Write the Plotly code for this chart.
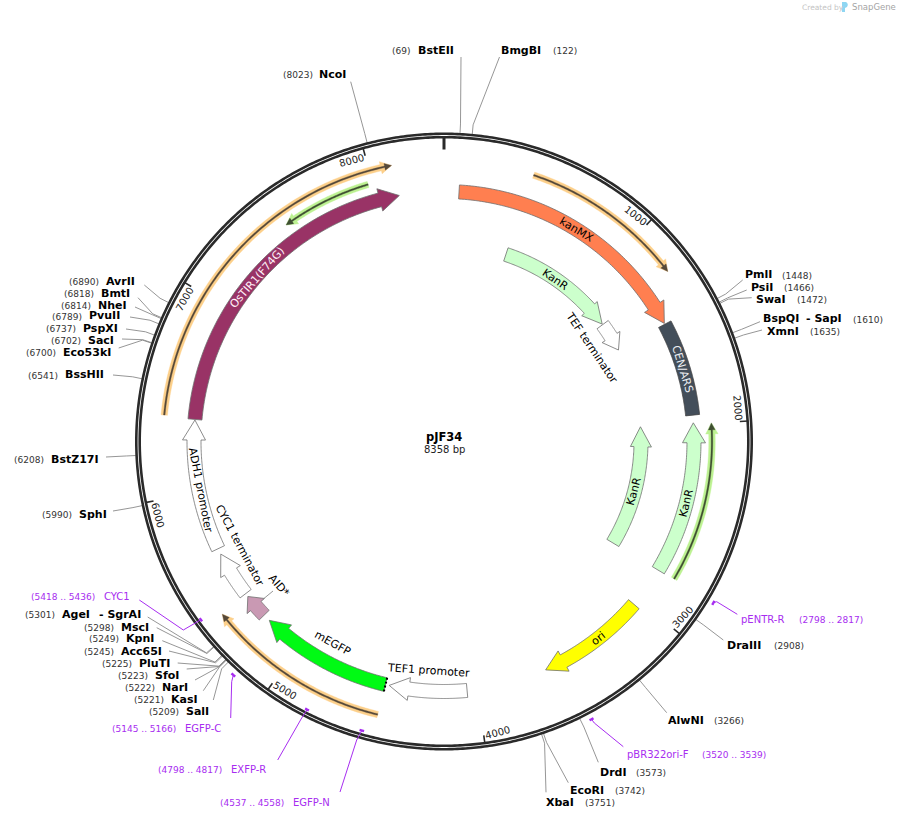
import numpy as np
import plotly.graph_objects as go

# ---------- data ----------
plasmid_name = "pJF34"
plasmid_size = 8358
tick_values = [1000, 2000, 3000, 4000, 5000, 6000, 7000, 8000]

feature_names = ["kanMX", "KanR", "TEF terminator", "CEN/ARS", "KanR", "KanR", "ori", "TEF1 promoter",
                 "mEGFP", "AID*", "CYC1 terminator", "ADH1 promoter", "OsTIR1(F74G)"]
feature_starts = [80, 425, 1245, 1440, 2809, 2809, 3032, 4056, 4493, 5247, 5398, 5679, 6386]
feature_ends = [1435, 1240, 1447, 1949, 1990, 1990, 3622, 4473, 5208, 5379, 5647, 6383, 8119]

orf_starts = [432, 4496, 6394]
orf_ends = [1225, 5388, 8108]
orf_track_green_starts = [7976, 2805]
orf_track_green_ends = [7520, 1997]

site_names = ["BstEII", "BmgBI", "PmlI", "PsiI", "SwaI", "BspQI", "XmnI", "DraIII", "AlwNI", "DrdI", "EcoRI", "XbaI",
              "SalI", "KasI", "NarI", "SfoI", "PluTI", "Acc65I", "KpnI", "MscI", "AgeI", "SphI", "BstZ17I", "BssHII",
              "Eco53kI", "SacI", "PspXI", "PvuII", "NheI", "BmtI", "AvrII", "NcoI"]
site_positions = [69, 122, 1448, 1466, 1472, 1610, 1635, 2908, 3266, 3573, 3742, 3751,
                  5209, 5221, 5222, 5223, 5225, 5245, 5249, 5298, 5301, 5990, 6208, 6541,
                  6700, 6702, 6737, 6789, 6814, 6818, 6890, 8023]

primer_names = ["pENTR-R", "pBR322ori-F", "EGFP-N", "EXFP-R", "EGFP-C", "CYC1"]
primer_starts = [2798, 3520, 4537, 4798, 5145, 5418]
primer_ends = [2817, 3539, 4558, 4817, 5166, 5436]

# ---------- layout of the marks and labels (pixels of the page, bp via the polar axis) ----------
W, H = 899, 819
CX, CY = 444.0, 441.5
RMAX = 375.0

tick_label_rot = [38, 85, -47, -15, 31, 76, -60, -15]

feature_colors = ["#ff7f50", "#ccffcc", "#ffffff", "#434e5a", "#ccffcc", "#ccffcc", "#ffff00", "#ffffff",
                  "#00fa14", "#c999b3", "#ffffff", "#ffffff", "#993366"]
feature_radii = [250, 197, 197, 250, 250, 197, 250, 250, 250, 250, 250, 250, 250]
feature_has_head = [1, 1, 1, 0, 1, 1, 1, 1, 1, 1, 1, 1, 1]
feature_label_xy = [(576, 229.5), (555, 279.5), (591.5, 347.5), (682.7, 369.3), (686, 503.3), (634, 491.7),
                    (598.3, 638.3), (428.3, 670), (333.3, 643.3), (279, 585), (240, 545), (201, 490), (257.3, 277.7)]
feature_label_rot = [31, 34, 56, 73, -76, -75, -38, 4, 29, 49, 62, 79, -49]
feature_label_col = ["#000", "#000", "#000", "#eef0f4", "#000", "#000", "#000", "#000", "#000", "#000", "#000", "#000",
                     "#fff0f8"]

site_name_xy = [(418, 50), (501, 50), (745, 275), (751, 287), (756, 299), (763, 319), (767, 331), (726.5, 645),
                (668, 720), (600, 772), (570, 790), (546, 802), (186, 711), (171, 699), (162, 687), (155, 675),
                (139, 663), (121, 651), (126, 638), (121, 627), (62, 614), (79, 514), (51, 459), (65, 375),
                (63, 352), (88, 340), (83, 328), (89, 316), (98, 305), (101, 293), (106, 281), (319, 74)]
site_num_x = [392, 553, 782, 784, 797, 853, 810, 774, 714, 636, 615, 585, 149, 134, 125, 118, 102, 84, 89, 84, 25, 42,
              14, 28, 26, 51, 46, 52, 61, 64, 69, 283]
site_line_end = [(461, 57), (499.5, 57), (742.7, 280), (746.7, 290), (751.7, 297.7), (760, 321.7), (762, 330),
                 (723.3, 640), (666.7, 712.7), (598.3, 762.3), (568.3, 782.7), (546, 792.3),
                 (213.3, 700), (203.3, 690.7), (195, 680), (186.7, 669), (177.7, 663), (169, 651), (162.3, 640.7),
                 (156.7, 627.7), (147.7, 617), (113, 511), (106, 457), (113, 375), (118.7, 348), (122, 339),
                 (126, 329), (130, 317), (135, 307), (138, 297.7), (144.3, 285), (350.7, 81.7)]
extra_labels = [("- SapI", 806, 319), ("- SgrAI", 99, 614)]

primer_radii = [314, 314.5, 300.5, 301, 314.5, 301.5]
primer_elbow = [(716.7, 601.7), (594.3, 723), (356.7, 740), (301.7, 718), (231.7, 681.7), (183.3, 630)]
primer_line_end = [(737.3, 614.3), (623.3, 746.7), (340, 792), (277.7, 760), (230.7, 718), (139.3, 600)]
primer_name_xy = [(741, 619), (626.5, 754), (293, 802), (231, 769), (185, 728), (104, 596)]
primer_num_xy = [(799, 620), (701.5, 755), (220, 802.5), (158, 770), (112, 728.5), (31, 597)]

PURPLE = "#a72df0"
DARK = "#2a2a2a"
GREY = "#8a8a8a"
EDGE = "#6e6e6e"
FONT = "DejaVu Sans"

# ---------- helpers ----------
def deg(bp):
    return np.asarray(bp, dtype=float) * 360.0 / plasmid_size


def from_px(x, y):
    dx, dy = x - CX, y - CY
    return float(np.hypot(dx, dy)), float(np.degrees(np.arctan2(dx, -dy)) % 360)


fig = go.Figure()
page_shapes = []


def add(r, theta, **kw):
    kw.setdefault("mode", "lines")
    fig.add_trace(go.Scatterpolar(r=r, theta=theta, showlegend=False, hoverinfo="skip", **kw))


def arrow(start, end, radius, body, head_half, head_px, fill, edge=EDGE, edge_w=0.8):
    a0, a1 = float(deg(start)), float(deg(end))
    sign = 1 if a1 > a0 else -1
    span_px = abs(np.radians(a1 - a0)) * radius
    h = min(head_px, 0.5 * span_px) if head_half else 0
    ab = a1 - sign * np.degrees(h / radius)
    arc = np.linspace(a0, ab, 80)
    rs = list(np.full(80, radius + body))
    ts = list(arc)
    if head_half:
        rs += [radius + head_half, radius, radius - head_half]
        ts += [ab, a1, ab]
    rs += list(np.full(80, radius - body)) + [radius + body]
    ts += list(arc[::-1]) + [a0]
    add(rs, ts, fill="toself", fillcolor=fill, line=dict(color=edge, width=edge_w))


def text(s, x, y, size=10, color="#000", bold=False, anchor="left", rot=0):
    if anchor == "left":
        x -= 1
    fig.add_annotation(x=x / W, y=1 - y / H, xref="paper", yref="paper", showarrow=False,
                       text=f"<b>{s}</b>" if bold else s, xanchor=anchor, yanchor="middle", textangle=rot,
                       borderpad=0, font=dict(family=FONT, size=size, color=color))


# ---------- leader lines ----------
ELBOW_R = 318
for bp, end in zip(site_positions, site_line_end):
    r_e, t_e = from_px(*end)
    t = float(deg(bp))
    if r_e <= RMAX:
        add([308.5, ELBOW_R, r_e], [t, t, t_e], line=dict(color=GREY, width=0.9))
    else:
        # the tail runs past the top of the polar plot area, so it is a page-level line
        add([308.5, ELBOW_R], [t, t], line=dict(color=GREY, width=0.9))
        ex = CX + ELBOW_R * np.sin(np.radians(t))
        ey = CY - ELBOW_R * np.cos(np.radians(t))
        page_shapes.append(dict(type="line", xref="paper", yref="paper", x0=ex / W, y0=1 - ey / H,
                                x1=end[0] / W, y1=1 - end[1] / H, line=dict(color=GREY, width=0.9)))

# ---------- backbone ----------
circle = np.linspace(0, 360, 721)
add(np.full(721, 307.7), circle, line=dict(color=DARK, width=2.6))
add(np.full(721, 304.3), circle, line=dict(color=DARK, width=2.6))
add([292, 305], [0, 0], line=dict(color=DARK, width=3))
for v, rot in zip(tick_values, tick_label_rot):
    t = float(deg(v))
    add([296.5, 305], [t, t], line=dict(color=DARK, width=1.6))
    ta = t - 2.8
    xt = CX + 296 * np.sin(np.radians(ta))
    yt = CY - 296 * np.cos(np.radians(ta))
    text(str(v), xt, yt, size=10, color="#222", anchor="center", rot=rot)

# ---------- features ----------
for s, e, c, r, hh in zip(feature_starts, feature_ends, feature_colors, feature_radii, feature_has_head):
    head = (11.5 if r == 250 else 10.5) if hh else 0
    arrow(s, e, r, 7, head, 20, c, edge="#444" if c == "#434e5a" else EDGE)
# small dotted end of mEGFP
i = feature_names.index("mEGFP")
t = float(deg(feature_starts[i]))
add([243, 257], [t, t], line=dict(color="#000", width=2, dash="2px,2px"))
# AID* leader
add([from_px(263.3, 599)[0], from_px(273, 591)[0]], [from_px(263.3, 599)[1], from_px(273, 591)[1]],
    line=dict(color=GREY, width=0.9))

# ---------- thin ORF / primer-like tracks ----------
for s, e in zip(orf_starts, orf_ends):
    arrow(s, e, 281, 3.2, 6.2, 11, "#fdd08a", edge="#fdd08a", edge_w=0.4)
    arrow(s, e, 281, 0.8, 3.4, 7, "#55493a", edge="#55493a", edge_w=0.3)
for s, e in zip(orf_track_green_starts, orf_track_green_ends):
    arrow(s, e, 268, 3.2, 6.2, 11, "#bdf292", edge="#bdf292", edge_w=0.4)
    arrow(s, e, 268, 0.8, 3.4, 7, "#3f4f32", edge="#3f4f32", edge_w=0.3)

# ---------- primers ----------
for s, e, r, elbow, end in zip(primer_starts, primer_ends, primer_radii, primer_elbow, primer_line_end):
    arc = np.linspace(float(deg(s)), float(deg(e)), 6)
    add(np.full(6, r), arc, line=dict(color=PURPLE, width=2.4))
    mid = float(deg((s + e) / 2))
    re_, te_ = from_px(*elbow)
    rl, tl = from_px(*end)
    add([r, re_, rl], [mid, te_, tl], line=dict(color=PURPLE, width=1))

# ---------- texts ----------
text(f"<b>{plasmid_name}</b>", CX, 437, size=11.5, anchor="center")
text(f"{plasmid_size} bp", CX + 0.5, 449.5, size=10, color="#222", anchor="center")

for name, xy, rot, col in zip(feature_names, feature_label_xy, feature_label_rot, feature_label_col):
    text(name, xy[0], xy[1], size=11, color=col, anchor="center", rot=rot)

for name, num, (x, y), nx in zip(site_names, site_positions, site_name_xy, site_num_x):
    text(name, x, y, size=11, bold=True)
    text(f"({num})", nx, y + 0.7, size=9, color="#333")
for s, x, y in extra_labels:
    text(s, x, y, size=11, bold=True)

for name, s, e, xy, nxy in zip(primer_names, primer_starts, primer_ends, primer_name_xy, primer_num_xy):
    text(name, xy[0], xy[1], size=10, color=PURPLE)
    text(f"({s} .. {e})", nxy[0], nxy[1], size=9, color=PURPLE)

# logo
text("Created by", 802, 7.5, size=7.5, color="#c4c4c4")
text("SnapGene", 852, 7.5, size=8.5, color="#a4a4a4")
page_shapes.append(dict(type="path", xref="paper", yref="paper",
                        path=f"M {842/W} {1-2/H} L {846/W} {1-2/H} Q {849/W} {1-4/H} {847/W} {1-7/H} L {845/W} {1-8/H} "
                             f"L {845/W} {1-12/H} L {842/W} {1-12/H} Z",
                        fillcolor="#8fd6f2", line=dict(width=0)))

fig.update_layout(
    width=W, height=H, autosize=False, margin=dict(l=0, r=0, t=0, b=0),
    paper_bgcolor="#fff", plot_bgcolor="#fff", showlegend=False,
    polar=dict(
        domain=dict(x=[(CX - RMAX) / W, (CX + RMAX) / W], y=[(H - CY - RMAX) / H, (H - CY + RMAX) / H]),
        bgcolor="rgba(0,0,0,0)",
        radialaxis=dict(range=[0, RMAX], visible=False, showgrid=False),
        angularaxis=dict(direction="clockwise", rotation=90, visible=False, showgrid=False, thetaunit="degrees"),
    ),
    shapes=page_shapes,
)

fig.write_html("out.html", config={"displayModeBar": False},
               post_script="document.body.style.margin='0';document.documentElement.style.overflow='hidden';")
